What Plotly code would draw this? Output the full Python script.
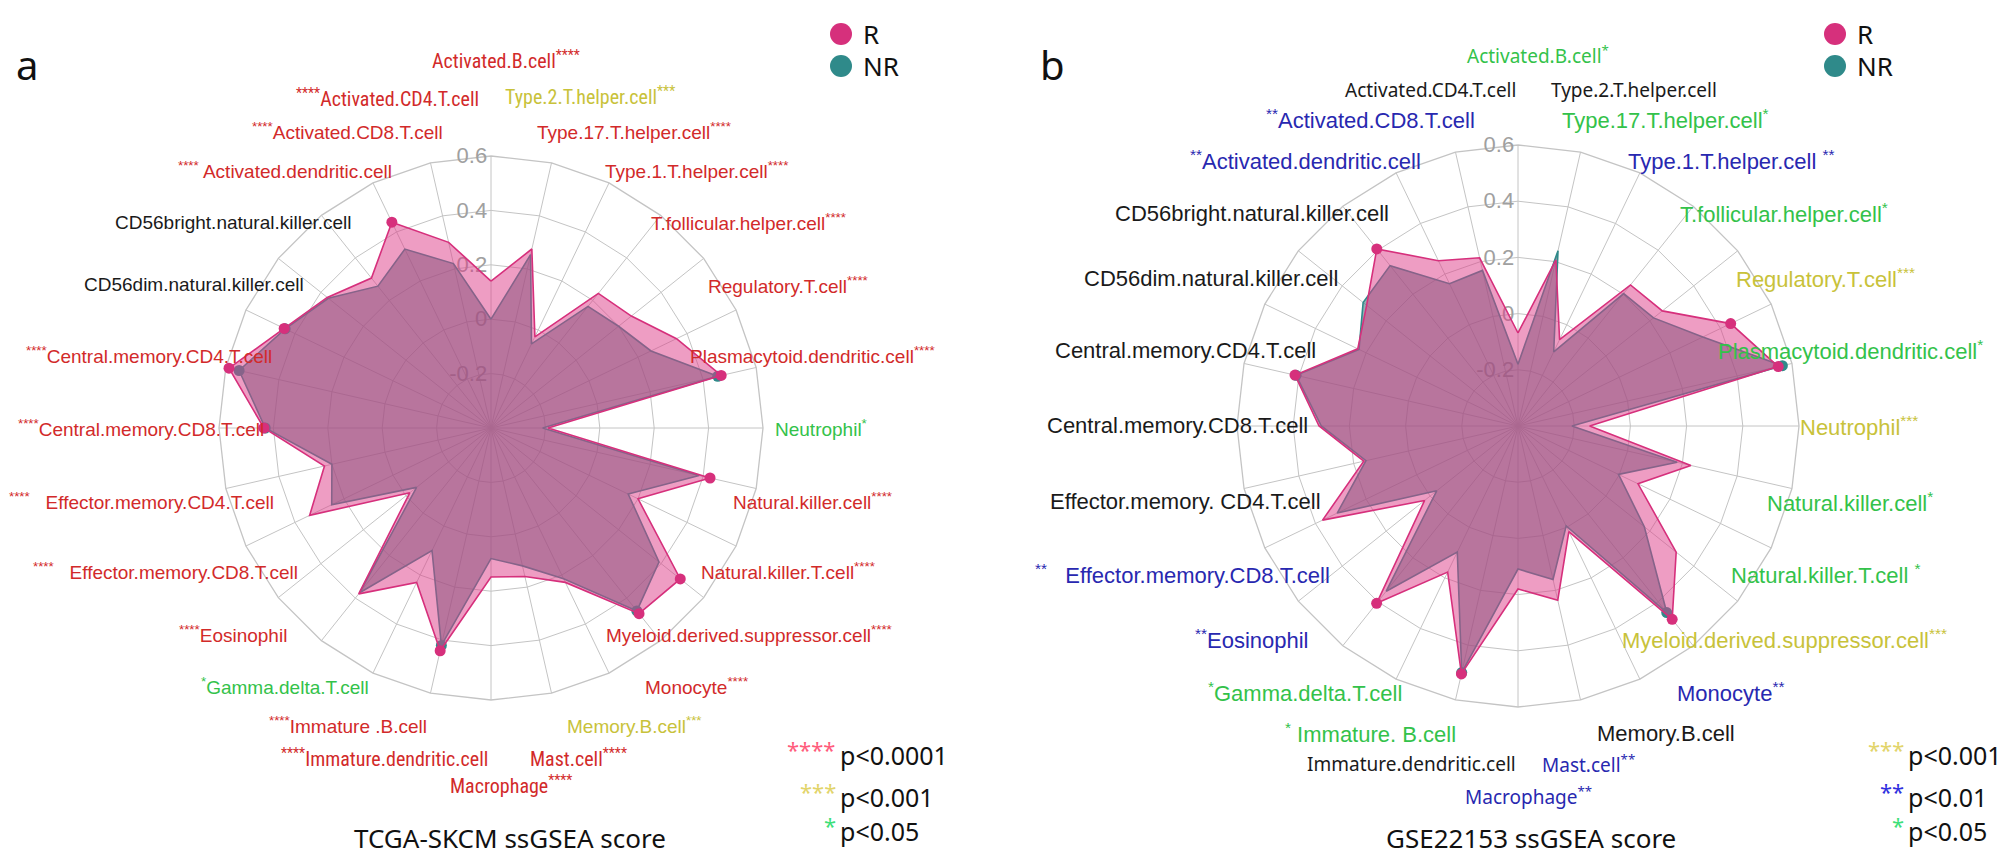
import math
import plotly.graph_objects as go

W, H = 2008, 853

# ---------------- data ----------------
categories = [
    "Activated.B.cell", "Activated.CD4.T.cell", "Activated.CD8.T.cell",
    "Activated.dendritic.cell", "CD56bright.natural.killer.cell",
    "CD56dim.natural.killer.cell", "Central.memory.CD4.T.cell",
    "Central.memory.CD8.T.cell", "Effector.memory.CD4.T.cell",
    "Effector.memory.CD8.T.cell", "Eosinophil", "Gamma.delta.T.cell",
    "Immature.B.cell", "Immature.dendritic.cell", "Macrophage", "Mast.cell",
    "Memory.B.cell", "Monocyte", "Myeloid.derived.suppressor.cell",
    "Natural.killer.T.cell", "Natural.killer.cell", "Neutrophil",
    "Plasmacytoid.dendritic.cell", "Regulatory.T.cell",
    "T.follicular.helper.cell", "Type.1.T.helper.cell",
    "Type.17.T.helper.cell", "Type.2.T.helper.cell",
]

tcga_R = [0.14, 0.30, 0.44, 0.305, 0.37, 0.444, 0.588, 0.435, 0.228, 0.34,
          -0.018, 0.38, 0.23, 0.44, 0.148, 0.16, 0.23, 0.473, 0.49, 0.20,
          0.426, -0.19, 0.468, 0.357, 0.26, 0.233, -0.028, 0.275]
tcga_NR = [0.00, 0.22, 0.33, 0.267, 0.365, 0.44, 0.55, 0.43, 0.20, 0.25,
           -0.05, 0.375, 0.10, 0.42, 0.08, 0.12, 0.215, 0.46, 0.39, 0.16,
           0.385, -0.21, 0.455, 0.253, 0.20, 0.172, -0.057, 0.254]

gse_R = [-0.069, 0.214, 0.253, 0.406, 0.289, 0.233, 0.414, 0.308, 0.163, 0.372,
         0.025, 0.407, 0.177, 0.505, 0.18, 0.236, 0.017, 0.48, 0.32, 0.074,
         0.231, -0.145, 0.55, 0.44, 0.257, 0.242, -0.059, 0.206]
gse_NR = [-0.18, 0.168, 0.162, 0.33, 0.305, 0.228, 0.41, 0.30, 0.155, 0.314,
          -0.03, 0.352, 0.098, 0.50, 0.109, 0.16, -0.005, 0.449, 0.175, -0.003,
          0.181, -0.208, 0.565, 0.33, 0.217, 0.203, -0.107, 0.24]

radial_ticks = [-0.2, 0, 0.2, 0.4, 0.6]
radial_ticktext = ["-0.2", "0", "0.2", "0.4", "0.6"]

# significance asterisks per category
tcga_sig = ["****", "****", "****", "****", "", "", "****", "****", "****", "****",
            "****", "*", "****", "****", "****", "****", "***", "****", "****", "****",
            "****", "*", "****", "****", "****", "****", "****", "***"]
gse_sig = ["*", "", "**", "**", "", "", "", "", "", "**",
           "**", "*", "*", "", "**", "**", "", "**", "***", "*",
           "*", "***", "*", "***", "*", "**", "*", ""]

tcga_names = list(categories)
tcga_names[3] = " Activated.dendritic.cell"
tcga_names[8] = "   Effector.memory.CD4.T.cell"
tcga_names[9] = "   Effector.memory.CD8.T.cell"
tcga_names[12] = "Immature .B.cell"
gse_names = list(categories)
gse_names[8] = "Effector.memory. CD4.T.cell"
gse_names[9] = "   Effector.memory.CD8.T.cell"
gse_names[12] = " Immature. B.cell"
gse_names[19] = "Natural.killer.T.cell "
gse_names[25] = "Type.1.T.helper.cell "

# ---------------- styles ----------------
COL_R = "#D6307C"
COL_NR = "#2F8A8A"
FILL_R = "rgba(222,60,135,0.50)"
FILL_NR = "rgba(60,110,120,0.56)"
GRID = "#c4c4c4"
SIGCOL = {"****": "#D22A2A", "***": "#C8C23A", "**": "#2828B0", "*": "#33C24A", "": "#1a1a1a"}
NARROW = {0, 1, 13, 14, 15, 27}
FONT = "Liberation Sans, Arial, sans-serif"
NFONT_A = "Liberation Sans Narrow, Roboto Condensed, Liberation Sans, sans-serif"
NFONT_B = "Noto Sans, Open Sans, sans-serif"

panels = [
    dict(name="polar", cx=483, cy=420, R=272, rv=tcga_R, nv=tcga_NR, sig=tcga_sig, names=tcga_names,
         fsize=19, nsize=20, nfont=NFONT_A,
         nudges={0: (15, -38), 1: (-30, -8), 27: (26, -10), 14: (20, 27), 13: (-33, 8), 15: (14, 8),
                 6: (-20, 0), 7: (-20, 0), 8: (-28, 0), 9: (-28, 0)}),
    dict(name="polar2", cx=1510, cy=418, R=281, rv=gse_R, nv=gse_NR, sig=gse_sig, names=gse_names,
         fsize=22, nsize=19, nfont=NFONT_B,
         nudges={0: (20, -30), 1: (-12, -4), 27: (40, -4), 14: (10, 29), 13: (-31, 6), 15: (-5, 6),
                 9: (-28, 0)}),
]

fig = go.Figure()
annotations = []
shapes = []
layout_polars = {}

for p in panels:
    theta = categories + [categories[0]]
    for vals, line_col, fill_col, nm in ((p["nv"], COL_NR, FILL_NR, "NR"), (p["rv"], COL_R, FILL_R, "R")):
        fig.add_trace(go.Scatterpolar(
            r=list(vals) + [vals[0]], theta=theta, subplot=p["name"], name=nm,
            mode="lines+markers", fill="toself", fillcolor=fill_col,
            line=dict(color=line_col, width=1.6), marker=dict(color=line_col, size=11),
            showlegend=False))
    x0 = (p["cx"] - p["R"]) / W
    x1 = (p["cx"] + p["R"]) / W
    y0 = 1 - (p["cy"] + p["R"]) / H
    y1 = 1 - (p["cy"] - p["R"]) / H
    layout_polars[p["name"]] = dict(
        domain=dict(x=[x0, x1], y=[y0, y1]),
        bgcolor="rgba(0,0,0,0)",
        gridshape="linear",
        radialaxis=dict(range=[-0.4, 0.6], tickvals=radial_ticks, ticktext=radial_ticktext,
                        angle=90, tickangle=90, side="counterclockwise", showline=False, ticks="",
                        gridcolor=GRID, gridwidth=1.3, layer="below traces",
                        tickfont=dict(size=22, color="#a0a0a0", family=FONT)),
        angularaxis=dict(type="category", categoryarray=categories, direction="counterclockwise",
                         rotation=90, showticklabels=False, ticks="", gridcolor=GRID, gridwidth=1.3,
                         showline=True, linecolor=GRID, linewidth=1.3, layer="below traces"),
    )
    # category labels around the web
    L = 1.213 * p["R"]
    n = len(categories)
    for i, name in enumerate(p["names"]):
        th = math.radians(90 + i * 360 / n)
        dx, dy = p["nudges"].get(i, (0, 0))
        x = p["cx"] + L * math.cos(th) + dx
        y = p["cy"] - L * math.sin(th) + dy
        s = p["sig"][i]
        col = SIGCOL[s]
        right_side = math.cos(th) > -1e-6
        if s:
            txt = f"{name}<sup>{s}</sup>" if right_side else f"<sup>{s}</sup>{name}"
        else:
            txt = name.strip()
        narrow = i in NARROW
        annotations.append(dict(x=x / W, y=1 - y / H, xref="paper", yref="paper", text=txt,
                                showarrow=False, xanchor="center", yanchor="middle",
                                font=dict(size=p["nsize"] if narrow else p["fsize"], color=col,
                                          family=p["nfont"] if narrow else FONT)))

fig.update_layout(**layout_polars)

# legends (R / NR)
legend_pos = [(833, 26), (1827, 26)]
for lx, ly in legend_pos:
    for k, (lab, col) in enumerate((("R", COL_R), ("NR", COL_NR))):
        yy = ly + 32 * k
        shapes.append(dict(type="circle", xref="paper", yref="paper",
                           x0=(lx - 11) / W, x1=(lx + 11) / W, y0=1 - (yy + 11) / H, y1=1 - (yy - 11) / H,
                           fillcolor=col, line=dict(width=0)))
        annotations.append(dict(x=(lx + 20) / W, y=1 - yy / H, xref="paper", yref="paper", text=lab,
                                showarrow=False, xanchor="left", yanchor="middle",
                                font=dict(size=26, color="#111", family="Noto Sans")))

# panel letters
for letter, lx in (("a", 6), ("b", 1030)):
    annotations.append(dict(x=lx / W, y=1 - 56 / H, xref="paper", yref="paper", text=letter,
                            showarrow=False, xanchor="left", yanchor="middle",
                            font=dict(size=40, color="#111", family="Noto Sans")))

# captions
for cap, rx in (("TCGA-SKCM ssGSEA score", 660), ("GSE22153 ssGSEA score", 1670)):
    annotations.append(dict(x=rx / W, y=1 - 830 / H, xref="paper", yref="paper", text=cap,
                            showarrow=False, xanchor="right", yanchor="middle",
                            font=dict(size=26, color="#111", family="Noto Sans")))

# p-value keys
pkeys = [
    (830, [("****", "#FF5C7C", "p<0.0001"), ("***", "#E2D46A", "p<0.001"), ("*", "#3EE07A", "p<0.05")]),
    (1898, [("***", "#E2D46A", "p<0.001"), ("**", "#3030E0", "p<0.01"), ("*", "#3EE07A", "p<0.05")]),
]
key_y = [747, 789, 823]
for px, rows in pkeys:
    for (ast, acol, ptxt), yy in zip(rows, key_y):
        annotations.append(dict(x=px / W, y=1 - (yy - 6) / H, xref="paper", yref="paper", text=ast,
                                showarrow=False, xanchor="right", yanchor="middle",
                                font=dict(size=22, color=acol, family="Noto Sans")))
        annotations.append(dict(x=px / W, y=1 - yy / H, xref="paper", yref="paper", text=ptxt,
                                showarrow=False, xanchor="left", yanchor="middle",
                                font=dict(size=25, color="#111", family="Noto Sans")))

fig.update_layout(width=W, height=H, margin=dict(l=0, r=0, t=0, b=0),
                  paper_bgcolor="white", plot_bgcolor="white",
                  annotations=annotations, shapes=shapes, showlegend=False)

fig.write_html("out.html")
